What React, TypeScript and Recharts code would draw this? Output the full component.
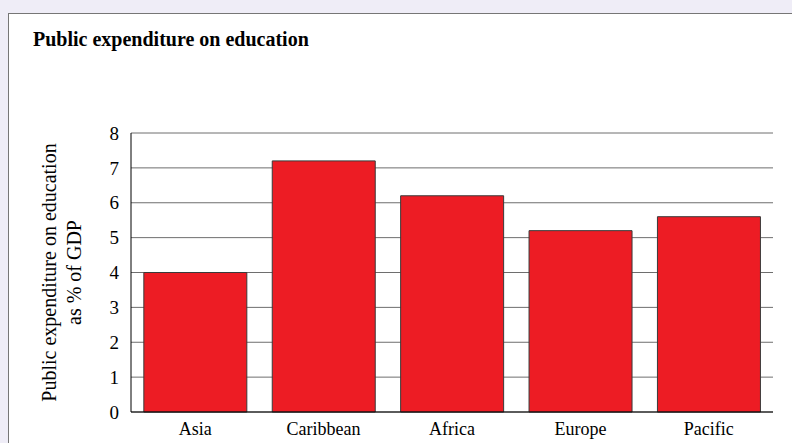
import React from 'react';
import { BarChart, Bar, XAxis, YAxis, CartesianGrid } from 'recharts';

// Public expenditure on education, % of GDP
const regions = ['Asia', 'Caribbean', 'Africa', 'Europe', 'Pacific'];
const spending = [4.0, 7.2, 6.2, 5.2, 5.6];
const yTicks = [0, 1, 2, 3, 4, 5, 6, 7, 8];
// separators between categories (in category units)
const edgeTicks = [1, 2, 3, 4, 5];

const data = regions.map((region, i) => ({ region, spending: spending[i] }));

const FONT = '"Liberation Serif", "Times New Roman", serif';

const YLabel = ({ viewBox }: any) => {
  const cy = viewBox.y + viewBox.height / 2;
  const x1 = 46.5;
  const x2 = 72;
  return (
    <g fontFamily={FONT} fontSize={20} fill="#000">
      <text x={x1} y={cy} textAnchor="middle" transform={`rotate(-90 ${x1} ${cy})`}>
        Public expenditure on education
      </text>
      <text x={x2} y={cy} textAnchor="middle" transform={`rotate(-90 ${x2} ${cy})`}>
        as % of GDP
      </text>
    </g>
  );
};

const App: React.FC = () => {
  return (
    <div
      style={{
        position: 'absolute',
        left: 0,
        top: 0,
        width: 792,
        height: 443,
        background: '#efedf7',
        overflow: 'hidden',
      }}
    >
      <div
        style={{
          position: 'absolute',
          left: 8,
          top: 13,
          width: 820,
          height: 460,
          background: '#fff',
          border: '1px solid #767676',
        }}
      >
        <div
          style={{
            position: 'absolute',
            left: 24,
            top: 15,
            fontFamily: FONT,
            fontWeight: 'bold',
            fontSize: 20,
            lineHeight: '20px',
            color: '#000',
            whiteSpace: 'nowrap',
          }}
        >
          Public expenditure on education
        </div>
        <div style={{ position: 'absolute', left: 0, top: 0 }}>
          <BarChart
            width={783}
            height={429}
            data={data}
            margin={{ top: 119, right: 19, bottom: 0, left: 0 }}
            barCategoryGap="10%"
          >
            <CartesianGrid vertical={false} stroke="#6e6e6e" strokeWidth={1} />
            <XAxis
              xAxisId="edges"
              type="number"
              domain={[0, 5]}
              ticks={edgeTicks}
              tick={false}
              axisLine={false}
              tickSize={-7}
              height={0}
              tickLine={{ stroke: '#000' }}
            />
            <XAxis
              dataKey="region"
              height={31}
              axisLine={{ stroke: '#000' }}
              tickLine={false}
              tickSize={6}
              tickMargin={4}
              interval={0}
              tick={{ fontFamily: FONT, fontSize: 18, fill: '#000' }}
            />
            <YAxis
              domain={[0, 8]}
              ticks={yTicks}
              width={122}
              axisLine={{ stroke: '#000' }}
              tickLine={false}
              tickMargin={6}
              tick={{ fontFamily: FONT, fontSize: 19, fill: '#000' }}
              label={{ content: YLabel }}
            />
            <Bar
              dataKey="spending"
              fill="#ed1c24"
              stroke="#3a3a3a"
              strokeWidth={1}
              isAnimationActive={false}
            />
          </BarChart>
        </div>
      </div>
    </div>
  );
};

export default App;
